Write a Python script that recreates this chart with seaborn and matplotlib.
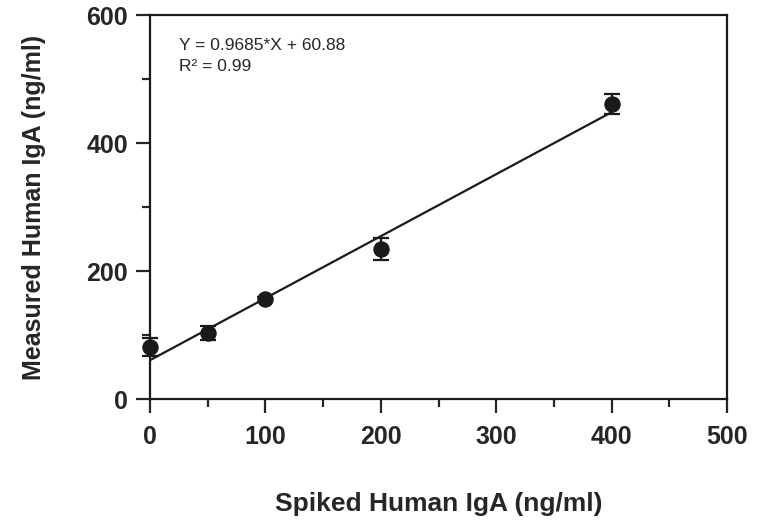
import numpy as np
import matplotlib
matplotlib.use("Agg")
import matplotlib.pyplot as plt
import seaborn as sns
from matplotlib.ticker import MultipleLocator

# Data
spiked = [0, 50, 100, 200, 400]
measured = [81, 103, 156, 234, 461]
err = [14, 11, 4, 17, 16]
slope, intercept = 0.9685, 60.88
eq_text = "Y = 0.9685*X + 60.88"
r2_text = "R\u00b2 = 0.99"

sns.set_style("ticks")
plt.rcParams['font.family'] = ['Liberation Sans', 'DejaVu Sans']

fig = plt.figure(figsize=(7.66, 5.21), dpi=100)
ax = fig.add_axes([0.196, 0.234, 0.753, 0.737])

# Fit line
fit_x = np.array([spiked[0], spiked[-1]])
sns.lineplot(x=fit_x, y=slope * fit_x + intercept, ax=ax, color='#1a1a1a', lw=1.6)

# Points with error bars
ax.errorbar(spiked, measured, yerr=err, fmt='none', ecolor='#1a1a1a',
            elinewidth=1.6, capsize=5.5, capthick=1.6, zorder=3, clip_on=False)
sns.scatterplot(x=spiked, y=measured, ax=ax, s=120, color='#1a1a1a',
                edgecolor='#1a1a1a', zorder=4, clip_on=False)

ax.set_xlim(0, 500)
ax.set_ylim(0, 600)
ax.xaxis.set_major_locator(MultipleLocator(100))
ax.xaxis.set_minor_locator(MultipleLocator(50))
ax.yaxis.set_major_locator(MultipleLocator(200))
ax.yaxis.set_minor_locator(MultipleLocator(100))
ax.tick_params(which='major', length=10, width=1.6, direction='out', pad=6,
               top=False, right=False, labelsize=18)
ax.tick_params(axis='x', which='major', pad=9)
ax.tick_params(which='minor', length=6, width=1.6, direction='out',
               top=False, right=False)
for lab in ax.get_xticklabels() + ax.get_yticklabels():
    lab.set_fontweight('bold')
for sp in ax.spines.values():
    sp.set_linewidth(1.6)
    sp.set_color('#1a1a1a')

ax.set_xlabel("Spiked Human IgA (ng/ml)", fontsize=19, fontweight='bold')
ax.set_ylabel("Measured Human IgA (ng/ml)", fontsize=18, fontweight='bold')
ax.xaxis.set_label_coords(0.5, -0.243)
ax.yaxis.set_label_coords(-0.18, 0.5)

ax.text(25, 553, eq_text, fontsize=12.5, va='center')
ax.text(25, 520, r2_text, fontsize=12.5, va='center')

fig.savefig("out.png", dpi=100)
